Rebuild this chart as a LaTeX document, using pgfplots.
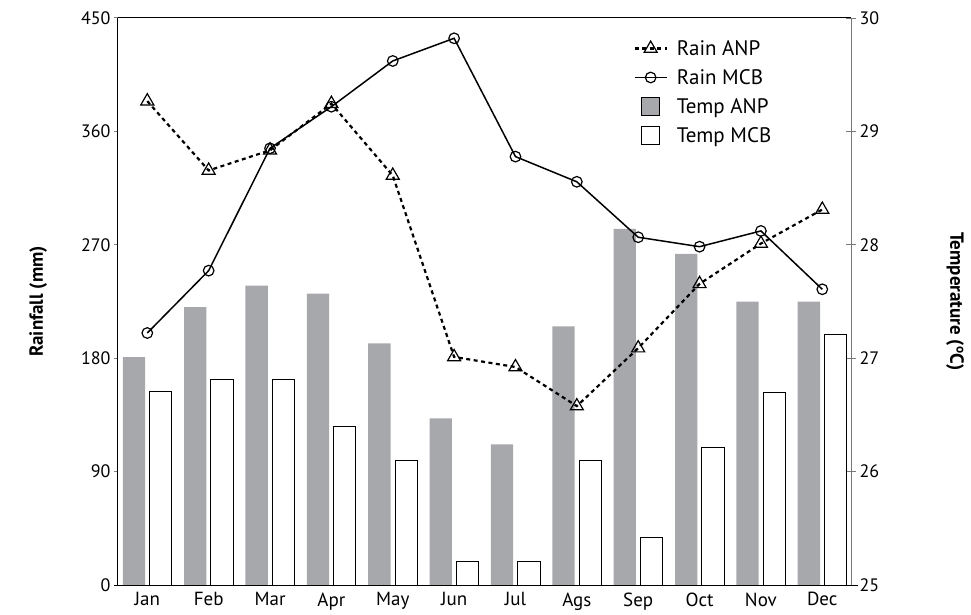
\documentclass[border=0pt]{standalone}
\usepackage{fontspec}
\setmainfont{PT Sans}
\usepackage{pgfplots}
\pgfplotsset{compat=1.18}
\definecolor{tempanp}{RGB}{167,168,172}
\definecolor{axgray}{RGB}{120,120,120}

\begin{document}
\begin{tikzpicture}
\useasboundingbox (-118pt,-29pt) rectangle (853pt,585pt);
\pgfplotsset{
  every axis/.append style={
    width=733pt, height=567pt, scale only axis,
    at={(0pt,0pt)}, anchor=south west,
    xmin=-0.4775, xmax=11.468,
    /pgf/number format/assume math mode=true,
    tick label style={font=\fontsize{18}{21}\selectfont},
    label style={font=\fontsize{19}{22}\selectfont\bfseries},
  },
  lineleg/.style={legend image code/.code={
      \draw[##1, mark repeat=2, mark phase=2]
        plot coordinates {(0pt,0pt) (16pt,0pt) (32pt,0pt)};}},
  boxleg/.style={legend image code/.code={
      \draw[##1] (7pt,-9pt) rectangle (25pt,9pt);}},
}

% temperature (right axis), bars
\begin{axis}[
  axis x line=none,
  axis y line*=right,
  axis line style={-},
  y axis line style={axgray, line width=1pt},
  ymin=25, ymax=30, ytick={25,26,...,30},
  ytick style={axgray, line width=1pt},
  tick align=center, major tick length=10pt,
  ylabel={Temperature (\textsuperscript{o}C)},
  ylabel style={at={(axis description cs:1.142,0.5)}, anchor=center, rotate=180},
]
\addplot[ybar, bar width=22.3pt, bar shift=-13.4pt, fill=tempanp, draw=none]
  coordinates {(0,27.01) (1,27.45) (2,27.64) (3,27.57) (4,27.13) (5,26.47)
               (6,26.24) (7,27.28) (8,28.14) (9,27.92) (10,27.50) (11,27.50)};
\addplot[ybar, bar width=22.3pt, bar shift=13.4pt, fill=white, draw=black, line width=1pt]
  coordinates {(0,26.71) (1,26.81) (2,26.81) (3,26.40) (4,26.10) (5,25.21)
               (6,25.21) (7,26.10) (8,25.42) (9,26.21) (10,26.70) (11,27.21)};
\end{axis}

% rainfall (left axis), lines
\begin{axis}[
  axis x line*=bottom,
  axis y line*=left,
  axis line style={-, line width=1pt},
  x axis line style={shorten <=-4pt, shorten >=-7pt},
  ymin=0, ymax=450, ytick={0,90,...,450},
  xtick={0,...,11},
  xticklabels={Jan,Feb,Mar,Apr,May,Jun,Jul,Ags,Sep,Oct,Nov,Dec},
  xticklabel style={font=\fontsize{19}{22}\selectfont},
  xtick style={draw=none},
  ytick style={line width=1pt},
  tick align=outside, major tick length=4pt,
  ylabel={Rainfall (mm)},
  ylabel style={at={(axis description cs:-0.109,0.5)}, anchor=center},
  legend style={at={(axis description cs:0.699,0.968)}, anchor=north west,
    draw=none, fill=none, font=\fontsize{21}{24}\selectfont,
    row sep=8.5pt, column sep=7pt},
  legend cell align=left,
]
\draw[line width=1pt] (axis description cs:0,1) ++(-4pt,0pt) -- (axis description cs:1,1);
\addplot[black, line width=2.2pt, dash pattern=on 4pt off 3.5pt,
  mark=triangle, mark size=7.5pt, mark options={solid, line width=1.2pt}, lineleg]
  coordinates {(0,384) (1,329) (2,345) (3,382) (4,325) (5,181)
               (6,173) (7,142) (8,188) (9,239) (10,271) (11,298)};
\addlegendentry{Rain ANP}
\addplot[black, line width=1.5pt,
  mark=o, mark size=5.3pt, mark options={fill=white, line width=1.2pt}, lineleg]
  coordinates {(0,200) (1,249.5) (2,346.6) (3,379.6) (4,415.9) (5,433.9)
               (6,340) (7,320) (8,276) (9,268.5) (10,281) (11,234.7)};
\addlegendentry{Rain MCB}
\addlegendimage{boxleg, fill=tempanp, draw=none}
\addlegendentry{Temp ANP}
\addlegendimage{boxleg, fill=white, draw=black, line width=1pt}
\addlegendentry{Temp MCB}
\end{axis}
\end{tikzpicture}
\end{document}
